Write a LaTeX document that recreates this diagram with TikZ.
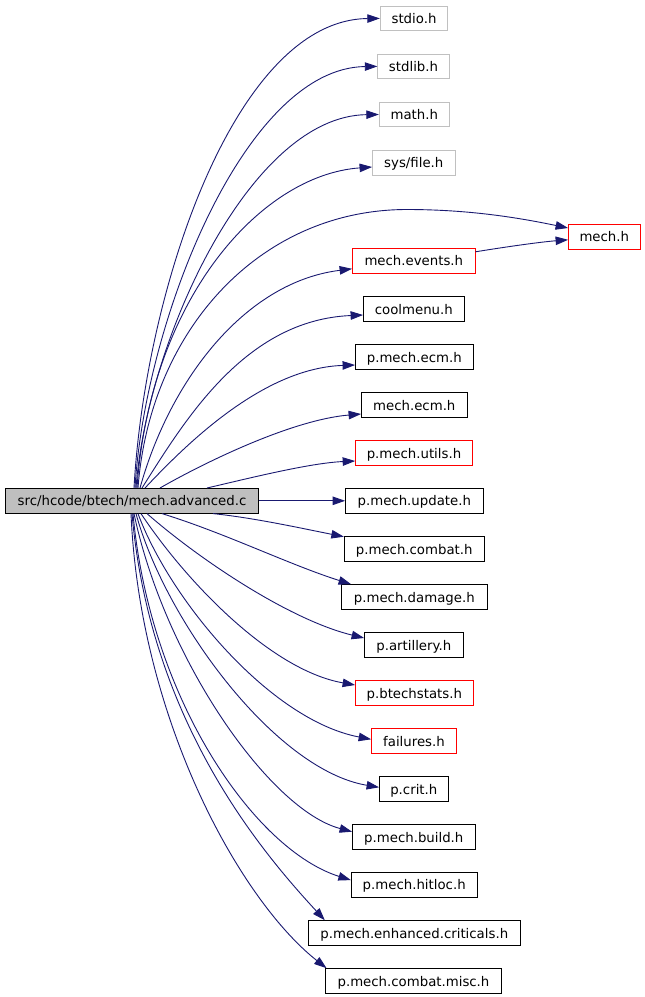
\documentclass[tikz,border=0pt]{standalone}
\usepackage{fontspec}
\setmainfont{DejaVu Sans}
\usetikzlibrary{arrows.meta}
\definecolor{edgeblue}{HTML}{191970}
\definecolor{boxgray}{HTML}{C0C0C0}
\definecolor{srcfill}{HTML}{BFBFBF}
\begin{document}
\begin{tikzpicture}[x=1pt,y=-1pt,
  box/.style={draw=black, line width=1pt, minimum height=24.6pt, inner sep=0pt,
    text height=10pt, text depth=0pt, font=\fontsize{13.3}{16}\selectfont, fill=white},
  sysbox/.style={box, draw=boxgray},
  redbox/.style={box, draw=red},
  srcbox/.style={box, fill=srcfill},
  dep/.style={draw=edgeblue, line width=0.9pt, -{Triangle[length=12.5pt,width=8.5pt]}}
]
\useasboundingbox (0,0) rectangle (645,997);

\node[srcbox, minimum width=253.4pt] (src) at (132,500.8) {src/hcode/btech/mech.advanced.c};
\node[sysbox, minimum width=67.4pt] (stdio) at (414,18.4) {stdio.h};
\node[sysbox, minimum width=71.4pt] (stdlib) at (413.5,66.4) {stdlib.h};
\node[sysbox, minimum width=70pt] (math) at (414.3,114.5) {math.h};
\node[sysbox, minimum width=82.4pt] (sysfile) at (413.8,162.7) {sys/file.h};
\node[redbox, minimum width=71.4pt] (mech) at (604.3,236.8) {mech.h};
\node[redbox, minimum width=122.4pt] (events) at (413.8,260.8) {mech.events.h};
\node[box, minimum width=100.4pt] (cool) at (413.8,309) {coolmenu.h};
\node[box, minimum width=117.4pt] (pecm) at (414.3,357) {p.mech.ecm.h};
\node[box, minimum width=105.4pt] (mecm) at (414.3,405) {mech.ecm.h};
\node[redbox, minimum width=116.7pt] (utils) at (414,453) {p.mech.utils.h};
\node[box, minimum width=137.4pt] (update) at (414.3,500.8) {p.mech.update.h};
\node[box, minimum width=139.7pt] (combat) at (414.2,549) {p.mech.combat.h};
\node[box, minimum width=145.4pt] (damage) at (414.3,597) {p.mech.damage.h};
\node[box, minimum width=98.4pt] (artillery) at (413.8,645) {p.artillery.h};
\node[redbox, minimum width=117.4pt] (btech) at (414.3,693) {p.btechstats.h};
\node[redbox, minimum width=84.7pt] (failures) at (414,741) {failures.h};
\node[box, minimum width=68.4pt] (crit) at (413.8,789) {p.crit.h};
\node[box, minimum width=122.4pt] (build) at (413.8,837) {p.mech.build.h};
\node[box, minimum width=125.7pt] (hitloc) at (414.2,884.8) {p.mech.hitloc.h};
\node[box, minimum width=211.4pt] (enh) at (414.3,933) {p.mech.enhanced.criticals.h};
\node[box, minimum width=175.7pt] (misc) at (413.5,981) {p.mech.combat.misc.h};

\coordinate (v4) at (407,209.5);

% upper edges
\draw[dep] ([xshift=2pt]src.north) .. controls (145,290) and (235,20) .. (stdio.west);
\draw[dep] ([xshift=3pt]src.north) .. controls (145,320) and (245,68) .. (stdlib.west);
\draw[dep] ([xshift=4pt]src.north) .. controls (147,340) and (250,116) .. (math.west);
\draw[dep] ([xshift=5pt]src.north) .. controls (150,300) and (260,175) .. ([yshift=-4.3pt]sysfile.west);
\draw[dep] ([xshift=6pt]src.north) .. controls (150,330) and (260,209.5) .. (v4)
  .. controls (470,209.5) and (520,218) .. ([yshift=8.8pt]mech.west);
\draw[dep] ([xshift=8pt]src.north) .. controls (170,380) and (245,282) .. ([yshift=-8pt]events.west);
\draw[dep] ([yshift=9pt]events.east) .. controls (505,247) and (540,242) .. ([yshift=-3pt]mech.west);
\draw[dep] ([xshift=10pt]src.north) .. controls (185,420) and (245,320) .. ([yshift=-6pt]cool.west);
\draw[dep] ([xshift=13pt]src.north) .. controls (190,440) and (265,368) .. ([yshift=-8pt]pecm.west);
\draw[dep] ([xshift=28pt]src.north) .. controls (200,465) and (290,420) .. ([yshift=-9pt]mecm.west);
\draw[dep] ([xshift=75pt]src.north) .. controls (250,478) and (310,463) .. ([yshift=-8pt]utils.west);
\draw[dep] (src.east) -- (update.west);

% lower edges
\draw[dep] ([xshift=81pt]src.south) .. controls (255,518) and (300,528) .. ([yshift=-0.5pt]combat.north west);
\draw[dep] ([xshift=30pt]src.south) .. controls (225,533) and (290,565) .. ([xshift=10pt]damage.north west);
\draw[dep] ([xshift=15pt]src.south) .. controls (200,560) and (290,620) .. ([yshift=7pt]artillery.west);
\draw[dep] ([xshift=9pt]src.south) .. controls (185,580) and (270,670) .. ([yshift=8pt]btech.west);
\draw[dep] ([xshift=6pt]src.south) .. controls (170,600) and (270,720) .. ([yshift=1.7pt]failures.west);
\draw[dep] ([xshift=4pt]src.south) .. controls (165,620) and (275,770) .. ([yshift=1.7pt]crit.west);
\draw[dep] ([xshift=2pt]src.south) .. controls (165,660) and (270,810) .. ([yshift=5.3pt]build.west);
\draw[dep] ([xshift=1pt]src.south) .. controls (150,700) and (255,850) .. ([yshift=4.7pt]hitloc.west);
\draw[dep] (src.south) .. controls (150,720) and (260,850) .. ([xshift=16.7pt]enh.north west);
\draw[dep] ([xshift=-1pt]src.south) .. controls (140,720) and (240,900) .. ([xshift=1.4pt]misc.north west);
\end{tikzpicture}
\end{document}
